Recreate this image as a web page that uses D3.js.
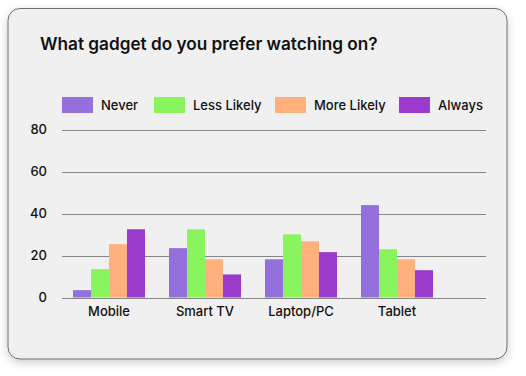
<!DOCTYPE html>
<html>
<head>
<meta charset="utf-8">
<script src="https://cdn.jsdelivr.net/npm/d3@7"></script>
<style>
  html, body { margin: 0; padding: 0; background: #ffffff; }
  svg { display: block; }
  text { font-family: Inter, "Noto Sans", sans-serif; fill: #111; }
</style>
</head>
<body>
<svg id="chart" width="526" height="376"></svg>
<script>
const title = "What gadget do you prefer watching on?";
const categories = ["Mobile", "Smart TV", "Laptop/PC", "Tablet"];
const seriesNames = ["Never", "Less Likely", "More Likely", "Always"];
const seriesColors = ["#9370DB", "#88F55F", "#FFB07C", "#9B3ACB"];
const never = [3.5, 23.5, 18.2, 44];
const lessLikely = [13.5, 32.5, 30.1, 23];
const moreLikely = [25.4, 18.2, 26.8, 18.2];
const always = [32.5, 11, 21.6, 13];
const yTicks = [0, 20, 40, 60, 80];

const seriesValues = [never, lessLikely, moreLikely, always];

const svg = d3.select("#chart");

const defs = svg.append("defs");
const f = defs.append("filter").attr("id", "shadow").attr("x", "-10%").attr("y", "-10%").attr("width", "120%").attr("height", "125%");
f.append("feDropShadow").attr("dx", 0).attr("dy", 3).attr("stdDeviation", 4).attr("flood-color", "#000").attr("flood-opacity", 0.2);

svg.append("rect")
  .attr("x", 8).attr("y", 8.5).attr("width", 499).attr("height", 350.5)
  .attr("rx", 12).attr("ry", 12)
  .attr("fill", "#f0f0f0").attr("stroke", "#6e6e6e").attr("stroke-width", 1)
  .attr("filter", "url(#shadow)");

svg.append("text")
  .attr("x", 40).attr("y", 50)
  .attr("font-size", 17.2).attr("font-weight", 600)
  .text(title);

const x0 = d3.scaleBand().domain(categories).range([61, 445]).paddingInner(0.25).paddingOuter(0.125);
const x1 = d3.scaleBand().domain(seriesNames).range([0, x0.bandwidth()]).padding(0);
const y = d3.scaleLinear().domain([0, 80]).range([297.5, 129.5]);

// grid
svg.append("g").selectAll("line").data(yTicks).join("line")
  .attr("x1", 62).attr("x2", 486)
  .attr("y1", d => Math.round(y(d)) + 0.5).attr("y2", d => Math.round(y(d)) + 0.5)
  .attr("stroke", "#858585").attr("stroke-width", 1);

// y labels
svg.append("g").selectAll("text").data(yTicks).join("text")
  .attr("x", 47).attr("y", d => y(d)).attr("dy", "0.36em")
  .attr("text-anchor", "end").attr("font-size", 13).attr("font-weight", 500)
  .text(d => d);

// bars
const groups = svg.append("g").selectAll("g").data(categories).join("g")
  .attr("transform", c => `translate(${x0(c)},0)`);
groups.selectAll("rect")
  .data((c, ci) => seriesNames.map((s, si) => ({ s, si, v: seriesValues[si][ci] })))
  .join("rect")
  .attr("x", d => x1(d.s)).attr("width", x1.bandwidth())
  .attr("y", d => y(d.v)).attr("height", d => y(0) - y(d.v))
  .attr("fill", d => seriesColors[d.si]);

// x labels
svg.append("g").selectAll("text").data(categories).join("text")
  .attr("x", c => x0(c) + x0.bandwidth() / 2).attr("y", 316)
  .attr("text-anchor", "middle").attr("font-size", 13).attr("font-weight", 500)
  .text(c => c);

// legend
const legendX = [62, 154, 275, 399];
const leg = svg.append("g").selectAll("g").data(seriesNames).join("g")
  .attr("transform", (d, i) => `translate(${legendX[i]},97)`);
leg.append("rect").attr("width", 31).attr("height", 16).attr("fill", (d, i) => seriesColors[i]);
leg.append("text").attr("x", 39).attr("y", 8).attr("dy", "0.36em").attr("font-size", 13).attr("font-weight", 500).text(d => d);
</script>
</body>
</html>
